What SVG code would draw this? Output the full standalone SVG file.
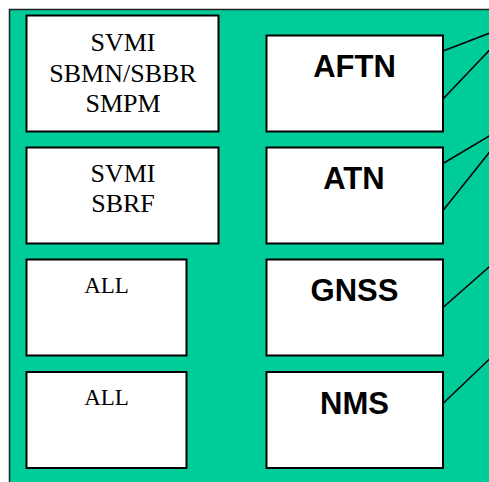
<svg xmlns="http://www.w3.org/2000/svg" width="489" height="482" viewBox="0 0 489 482">
<style>
.box{fill:#ffffff;stroke:#000000;stroke-width:2}
.serif{font-family:"Liberation Serif","Times New Roman",serif;font-size:26px;fill:#000;text-anchor:middle}
.small{font-size:23px}
.bold{font-family:"Liberation Sans",Arial,sans-serif;font-size:31px;font-weight:bold;fill:#000;text-anchor:middle}
.conn{stroke:#000000;stroke-width:1.5;fill:none}
</style>
<rect width="489" height="482" fill="#ffffff"/>
<rect x="9.5" y="9.5" width="490" height="480" fill="#00CC99" stroke="#222222" stroke-width="1.5"/>
<g id="node-svmi-sbmn-smpm">
<rect class="box" x="26.5" y="15.5" width="192" height="116"/>
<text class="serif" x="123" y="51">SVMI</text>
<text class="serif" x="123" y="81.5">SBMN/SBBR</text>
<text class="serif" x="123" y="112">SMPM</text>
</g>
<g id="node-svmi-sbrf">
<rect class="box" x="26.5" y="147.5" width="192" height="96"/>
<text class="serif" x="123" y="182">SVMI</text>
<text class="serif" x="123" y="212">SBRF</text>
</g>
<g id="node-all-1">
<rect class="box" x="26.5" y="259.5" width="160" height="96"/>
<text class="serif small" x="106.5" y="292.5">ALL</text>
</g>
<g id="node-all-2">
<rect class="box" x="26.5" y="372" width="160" height="96"/>
<text class="serif small" x="106.5" y="404.5">ALL</text>
</g>
<g id="node-aftn">
<rect class="box" x="266.5" y="35.5" width="176.5" height="96"/>
<text class="bold" x="354.5" y="77">AFTN</text>
</g>
<g id="node-atn">
<rect class="box" x="266.5" y="147.5" width="176.5" height="96"/>
<text class="bold" x="354" y="189">ATN</text>
</g>
<g id="node-gnss">
<rect class="box" x="266.5" y="259.5" width="176.5" height="96"/>
<text class="bold" x="354.5" y="301">GNSS</text>
</g>
<g id="node-nms">
<rect class="box" x="266.5" y="372" width="176.5" height="96"/>
<text class="bold" x="354.5" y="413.5">NMS</text>
</g>
<g id="connectors">
<line class="conn" x1="443" y1="51" x2="490" y2="33"/>
<line class="conn" x1="443" y1="99" x2="490" y2="49.5"/>
<line class="conn" x1="443" y1="163.5" x2="490" y2="135.5"/>
<line class="conn" x1="443" y1="210.5" x2="490" y2="151.5"/>
<line class="conn" x1="443" y1="307.5" x2="490" y2="266"/>
<line class="conn" x1="443" y1="403.5" x2="490" y2="358.5"/>
</g>
</svg>
